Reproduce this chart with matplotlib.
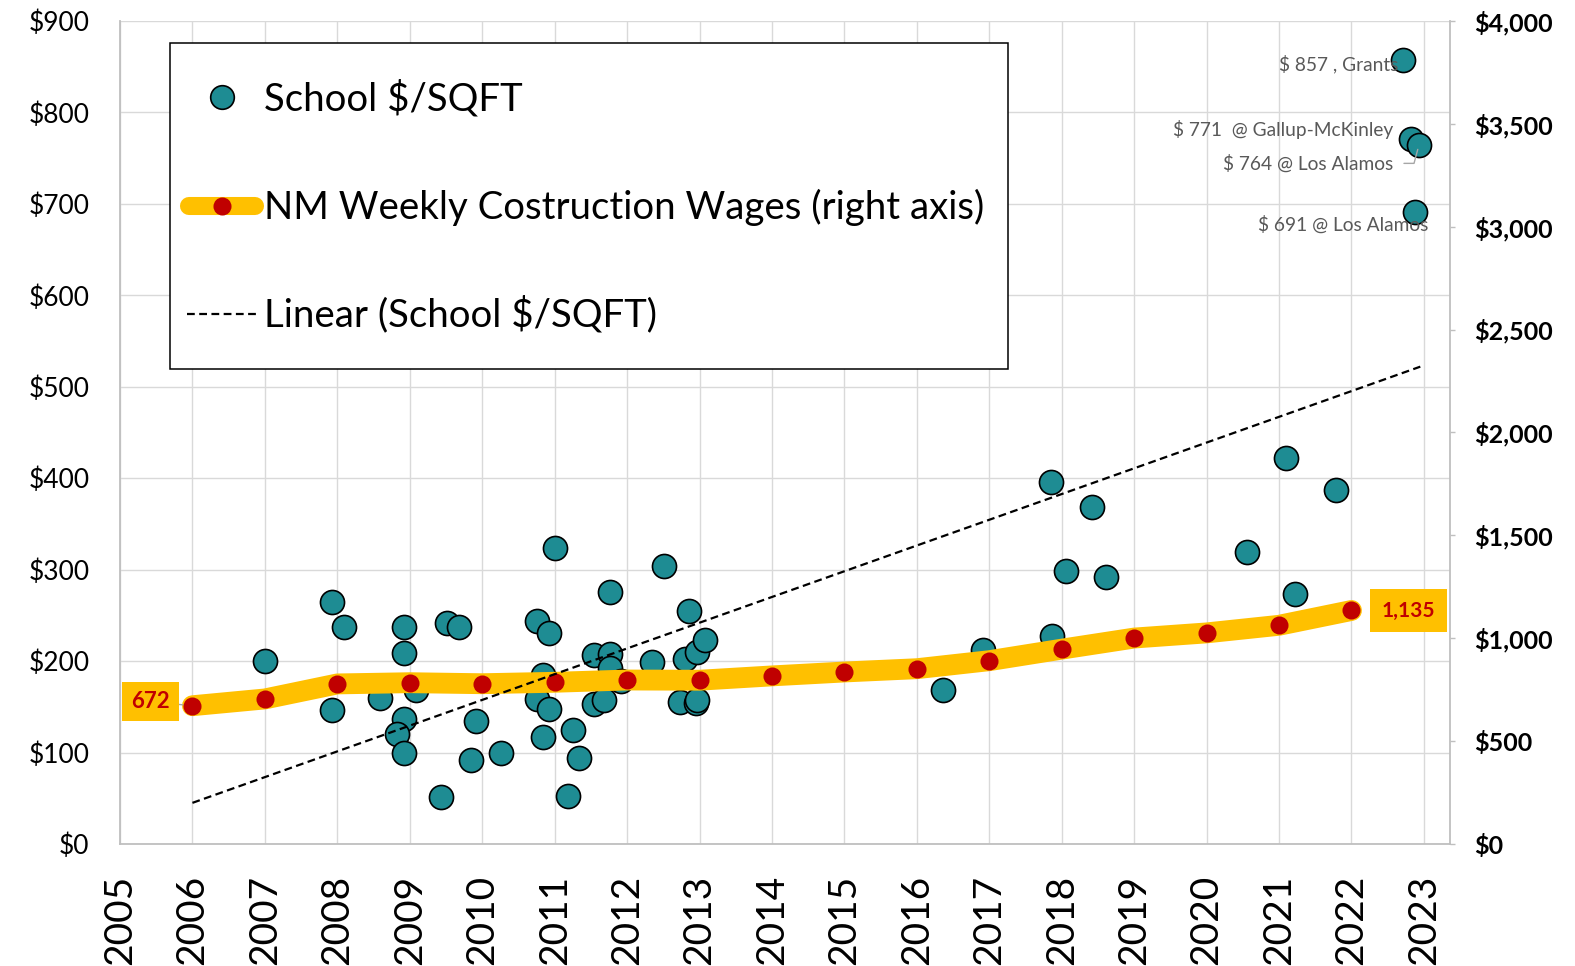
import matplotlib
matplotlib.use("Agg")
import matplotlib.pyplot as plt
from matplotlib.lines import Line2D
from matplotlib.patches import Rectangle

plt.rcParams['font.family'] = ['Lato', 'DejaVu Sans']

# school construction cost per sq ft (left axis)
school_year = [2007.00, 2007.92, 2008.09, 2007.92, 2008.59, 2008.92, 2008.92, 2009.08,
               2008.92, 2008.83, 2008.92, 2009.43, 2009.51, 2009.68, 2009.84, 2009.92,
               2010.26, 2010.75, 2010.92, 2010.84, 2010.76, 2010.92, 2010.84, 2011.00,
               2011.26, 2011.34, 2011.18, 2011.54, 2011.76, 2011.76, 2011.92, 2011.54,
               2011.68, 2011.76, 2012.51, 2012.35, 2012.86, 2012.80, 2012.97, 2013.08,
               2012.73, 2012.95, 2012.97,
               2016.36, 2016.92, 2017.87, 2017.85, 2018.42, 2018.06, 2018.61,
               2020.56, 2021.09, 2021.22, 2021.79,
               2022.71, 2022.82, 2022.93, 2022.88]
school_cost = [200, 265, 237, 146, 160, 237, 209, 168,
               137, 120, 100, 51, 242, 237, 92, 134,
               100, 244, 231, 185, 159, 148, 117, 324,
               125, 94, 53, 207, 208, 192, 178, 153,
               158, 276, 304, 199, 255, 202, 210, 223,
               155, 154, 158,
               168, 212, 227, 396, 368, 298, 292,
               319, 422, 273, 387,
               857, 771, 764, 691]

# NM weekly construction wages (right axis)
wage_year = [2006, 2007, 2008, 2009, 2010, 2011, 2012, 2013, 2014,
             2015, 2016, 2017, 2018, 2019, 2020, 2021, 2022]
wage_weekly = [672, 705, 778, 784, 779, 786, 797, 796, 817,
               836, 852, 891, 947, 1001, 1026, 1063, 1135]

# linear trend of school $/sqft, as drawn
trend_year = [2006.0, 2022.95]
trend_cost = [45, 522]

callout_text = ["$ 857 , Grants", "$ 771  @ Gallup-McKinley",
                "$ 764 @ Los Alamos", "$ 691 @ Los Alamos"]
callout_year = [2022.71, 2022.82, 2022.93, 2022.88]
callout_cost = [857, 771, 764, 691]
callout_offset = [(-5, -4), (-18, 9), (-26, -18), (13, -12)]

teal = '#1E8C93'
yellow = '#FFC000'
red = '#C00000'

W, H = 1575, 966
fig = plt.figure(figsize=(W / 100, H / 100), dpi=100)
ax = fig.add_axes([120 / W, 1 - 844 / H, 1330 / W, 823 / H])
ax2 = ax.twinx()

ax.set_xlim(2005, 2023.36)
ax.set_ylim(0, 900)
ax2.set_ylim(0, 4000)

ax.set_xticks(range(2005, 2024))
ax.set_xticklabels([str(y) for y in range(2005, 2024)], rotation=90, fontsize=28)
ax.set_yticks(range(0, 901, 100))
ax.set_yticklabels([f"${v}" for v in range(0, 901, 100)], fontsize=19)
ax.tick_params(axis='both', length=0, pad=22)

ax2.set_yticks(range(0, 4001, 500))
ax2.set_yticklabels([f"${v:,}" for v in range(0, 4001, 500)], fontsize=18, fontweight='bold')
ax2.tick_params(axis='y', length=3.6, width=1, color='#BFBFBF', pad=13.5)

ax.grid(True, color='#D9D9D9', lw=1)
ax.set_axisbelow(True)
for s in ['top', 'right']:
    ax.spines[s].set_visible(False)
for s in ['left', 'bottom']:
    ax.spines[s].set_color('#BFBFBF')
    ax.spines[s].set_linewidth(1.3)
for s in ['top', 'left', 'bottom']:
    ax2.spines[s].set_visible(False)
ax2.spines['right'].set_color('#BFBFBF')
ax2.spines['right'].set_linewidth(1.3)

ax.scatter(school_year, school_cost, s=300, c=teal, edgecolors='black',
           linewidths=1.2, zorder=3)

ax2.plot(wage_year, wage_weekly, color=yellow, lw=15, solid_capstyle='round',
         solid_joinstyle='round', zorder=2)
ax2.plot(wage_year, wage_weekly, 'o', color=red, ms=13, mec='none', zorder=3)

# trend line sits on top of the wage line, but in left-axis units
ax2.plot(trend_year, trend_cost, transform=ax.transData, color='black', lw=1.6,
         ls=(0, (3.5, 2)), zorder=4)
ax2.set_ylim(0, 4000)

ax2.annotate(f"{wage_weekly[0]:,}", xy=(wage_year[0], wage_weekly[0]), xytext=(-42, 4),
             textcoords='offset pixels', ha='center', va='center', fontsize=16,
             fontweight='bold', color=red,
             bbox=dict(boxstyle='square,pad=0.4', fc=yellow, ec='none'),
             arrowprops=dict(arrowstyle='-', color='#A6A6A6', lw=1, shrinkA=0, shrinkB=7),
             zorder=5)
ax2.annotate(f"{wage_weekly[-1]:,}", xy=(wage_year[-1], wage_weekly[-1]), xytext=(57, 0),
             textcoords='offset pixels', ha='center', va='center', fontsize=15,
             fontweight='bold', color=red,
             bbox=dict(boxstyle='square,pad=0.55', fc=yellow, ec='none'), zorder=5)

for txt, yr, val, off in zip(callout_text, callout_year, callout_cost, callout_offset):
    arrow = None
    if off[1] < -15:
        arrow = dict(arrowstyle='-', color='#A6A6A6', lw=1, shrinkA=6, shrinkB=3,
                     relpos=(1, 0.5), connectionstyle='angle,angleA=0,angleB=75,rad=0')
    ax2.annotate(txt, xy=(yr, val), xycoords=ax.transData, xytext=off,
                 textcoords='offset pixels', ha='right', va='center', fontsize=13.8,
                 color='#595959', arrowprops=arrow, zorder=5)

# legend box drawn by hand to match the Excel layout
fx = lambda px: px / W
fy = lambda py: 1 - py / H
tf = fig.transFigure
fig.add_artist(Rectangle((fx(170), fy(369)), (1008 - 170) / W, (369 - 43) / H,
                         transform=tf, fc='white', ec='black', lw=1.1, zorder=5))
fig.add_artist(Line2D([fx(221.7)], [fy(96.7)], marker='o', ms=17, mfc=teal, mec='black',
                      mew=1.2, ls='none', transform=tf, zorder=6))
fig.add_artist(Line2D([fx(189), fx(255)], [fy(205.7)] * 2, color=yellow, lw=13,
                      solid_capstyle='round', transform=tf, zorder=6))
fig.add_artist(Line2D([fx(221.7)], [fy(205.7)], marker='o', ms=13, mfc=red, mec='none',
                      ls='none', transform=tf, zorder=7))
fig.add_artist(Line2D([fx(187), fx(257)], [fy(314.3)] * 2, color='black', lw=1.6,
                      ls=(0, (3.5, 2)), transform=tf, zorder=6))
legend_text = ["School $/SQFT", "NM Weekly Costruction Wages (right axis)",
               "Linear (School $/SQFT)"]
for txt, base in zip(legend_text, [110, 219, 326.7]):
    fig.text(fx(264), fy(base), txt, fontsize=27.6, ha='left', va='baseline', zorder=7)

fig.savefig("out.png", dpi=100)
